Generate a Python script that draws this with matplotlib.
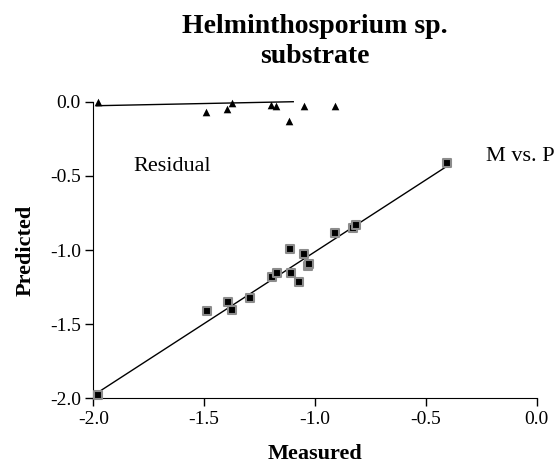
import matplotlib
matplotlib.use("Agg")
import matplotlib.pyplot as plt
import numpy as np

plt.rcParams['font.family'] = ['Liberation Serif', 'DejaVu Serif']
plt.rcParams['axes.unicode_minus'] = False

# Measured vs. predicted values (squares)
measured = [-1.977, -1.489, -1.394, -1.376, -1.295, -1.193, -1.171, -1.114,
            -1.107, -1.074, -1.048, -1.033, -1.026, -0.908, -0.827, -0.815,
            -0.406]
predicted = [-1.980, -1.413, -1.353, -1.405, -1.324, -1.182, -1.155, -0.993,
             -1.155, -1.214, -1.025, -1.110, -1.093, -0.885, -0.851, -0.833,
             -0.411]

# Residuals (triangles)
resid_x = [-1.977, -1.492, -1.398, -1.376, -1.200, -1.177, -1.117, -1.051,
           -0.910]
resid_y = [0.0, -0.071, -0.051, -0.011, -0.022, -0.027, -0.130, -0.029,
           -0.029]

# trend line drawn through the residuals
resid_line_x = [-1.985, -1.098]
resid_line_y = [-0.027, 0.0]

ticks = [-2.0, -1.5, -1.0, -0.5, 0.0]

fig = plt.figure(figsize=(5.57, 4.67), dpi=100)
ax = fig.add_axes([0.1675, 0.1471, 0.796, 0.6351])

# fit line for M vs. P
slope, intercept = np.polyfit(measured, predicted, 1)
fx = np.array([min(measured), max(measured)])
ax.plot(fx, slope * fx + intercept, color="black", lw=1.0, zorder=2)

ax.scatter(measured, predicted, marker="s", s=34, color="black",
           edgecolors="#8c8c8c", linewidths=1.5, zorder=3, clip_on=False)

ax.plot(resid_line_x, resid_line_y, color="black", lw=1.0, zorder=2,
        clip_on=False)
ax.scatter(resid_x, resid_y, marker="^", s=30, color="black", zorder=3,
           clip_on=False, linewidths=0)

ax.set_xlim(-2.0, 0.0)
ax.set_ylim(-2.0, 0.0)
ax.set_xticks(ticks)
ax.set_yticks(ticks)
ax.set_xticklabels(["%.1f" % t for t in ticks])
ax.set_yticklabels(["%.1f" % t for t in ticks])
ax.tick_params(direction="out", length=6, width=1, labelsize=14, pad=3)

ax.spines["top"].set_visible(False)
ax.spines["right"].set_visible(False)

ax.set_xlabel("Measured", fontsize=16, fontweight="bold", labelpad=12)
ax.set_ylabel("Predicted", fontsize=16, fontweight="bold", labelpad=10)

ax.text(-1.82, -0.47, "Residual", fontsize=16)
ax.text(-0.23, -0.40, "M vs. P", fontsize=16, clip_on=False)

fig.text(0.566, 1 - 33 / 467, "Helminthosporium sp.", fontsize=20,
         fontweight="bold", ha="center", va="baseline")
fig.text(0.566, 1 - 63 / 467, "substrate", fontsize=20,
         fontweight="bold", ha="center", va="baseline")

fig.savefig("out.png", dpi=100)
